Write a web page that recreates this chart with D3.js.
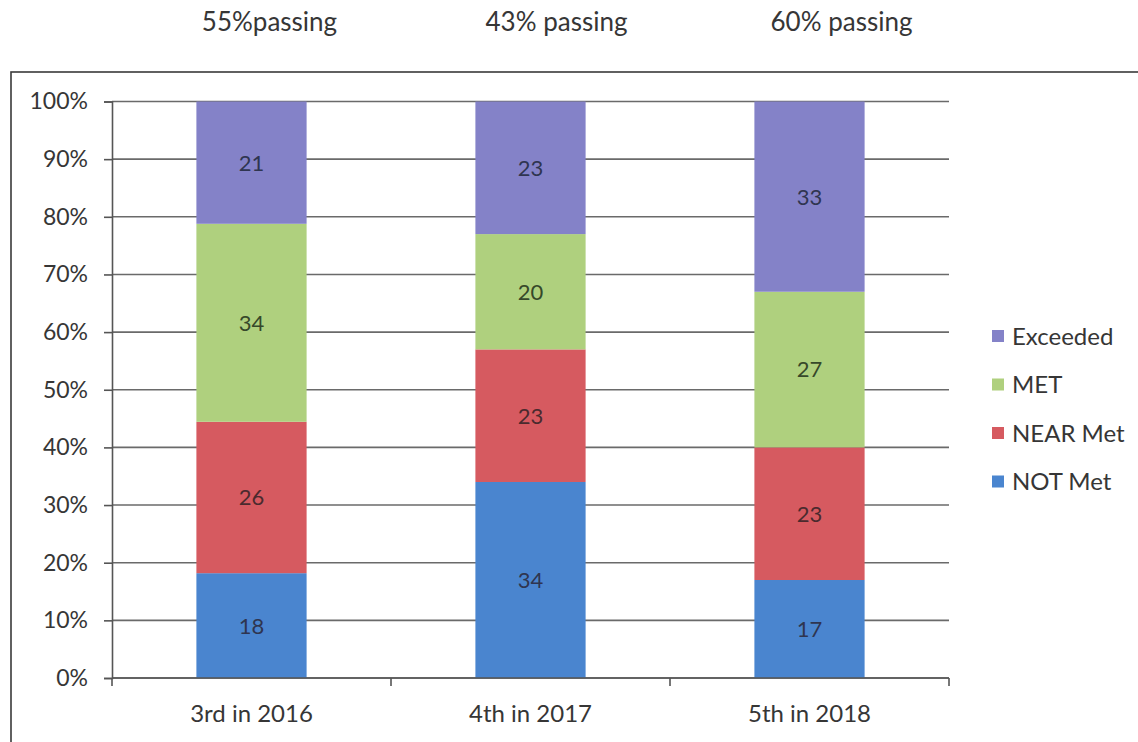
<!DOCTYPE html>
<html>
<head>
<meta charset="utf-8">
<script src="https://cdn.jsdelivr.net/npm/d3@7"></script>
<style>
  html, body { margin: 0; padding: 0; background: #fff; }
  svg { display: block; }
  text { font-family: Lato, "Open Sans", sans-serif; fill: #363636; }
</style>
</head>
<body>
<svg id="chart" width="1138" height="742"></svg>
<script>
// Student performance levels by grade/year (counts, drawn as 100% stacked bars)
const categories = ["3rd in 2016", "4th in 2017", "5th in 2018"];
const passingTitles = ["55%passing", "43% passing", "60% passing"];
const series = ["NOT Met", "NEAR Met", "MET", "Exceeded"];
const notMet   = [18, 34, 17];
const nearMet  = [26, 23, 23];
const met      = [34, 20, 27];
const exceeded = [21, 23, 33];
const yTicks = [0, 0.1, 0.2, 0.3, 0.4, 0.5, 0.6, 0.7, 0.8, 0.9, 1.0];

const colors = {
  "NOT Met": "#4a85cf",
  "NEAR Met": "#d65a60",
  "MET": "#afd07e",
  "Exceeded": "#8482c8"
};

const rows = categories.map((c, i) => ({
  category: c,
  "NOT Met": notMet[i],
  "NEAR Met": nearMet[i],
  "MET": met[i],
  "Exceeded": exceeded[i]
}));

const svg = d3.select("#chart");
const plot = { left: 112, right: 949, top: 101.5, bottom: 678 };

const x = d3.scaleBand().domain(categories).range([plot.left, plot.right]).paddingInner(0.605).paddingOuter(0.3025);
const xOuter = d3.scaleBand().domain(categories).range([plot.left, plot.right]).padding(0);
const y = d3.scaleLinear().domain([0, 1]).range([plot.bottom, plot.top]);

const stacked = d3.stack().keys(series).offset(d3.stackOffsetExpand)(rows);

// chart frame
svg.append("rect")
  .attr("x", 11).attr("y", 72)
  .attr("width", 1160).attr("height", 720)
  .attr("fill", "none").attr("stroke", "#3a3a3a").attr("stroke-width", 1.6);

// horizontal gridlines
svg.append("g")
  .selectAll("line")
  .data(yTicks)
  .join("line")
  .attr("x1", plot.left).attr("x2", plot.right)
  .attr("y1", d => y(d)).attr("y2", d => y(d))
  .attr("stroke", "#6a6a6a").attr("stroke-width", 1.6);

// y axis
const yAxis = d3.axisLeft(y).tickValues(yTicks).tickFormat(d3.format(".0%")).tickSize(8).tickPadding(16);
const gy = svg.append("g").attr("transform", `translate(${plot.left},0)`).call(yAxis);
gy.select(".domain").attr("stroke", "#555").attr("stroke-width", 1.6);
gy.selectAll(".tick line").attr("stroke", "#555").attr("stroke-width", 1.6);
gy.selectAll(".tick text").attr("font-size", 23).attr("font-family", null).style("fill", "#363636");

// bars
const layer = svg.append("g")
  .selectAll("g")
  .data(stacked)
  .join("g")
  .attr("fill", d => colors[d.key]);

layer.selectAll("rect")
  .data(d => d)
  .join("rect")
  .attr("x", d => x(d.data.category))
  .attr("width", x.bandwidth())
  .attr("y", d => y(d[1]))
  .attr("height", d => y(d[0]) - y(d[1]));

// value labels
svg.append("g")
  .selectAll("g")
  .data(stacked)
  .join("g")
  .selectAll("text")
  .data(d => d.map(p => ({ p, key: d.key })))
  .join("text")
  .attr("x", d => x(d.p.data.category) + x.bandwidth() / 2)
  .attr("y", d => (y(d.p[0]) + y(d.p[1])) / 2)
  .attr("dy", "0.36em")
  .attr("text-anchor", "middle")
  .attr("font-size", 22)
  .style("fill", d => d.key === "MET" ? "#36482a" : (d.key === "NEAR Met" ? "#4a2a2e" : "#2f3550"))
  .text(d => d.p.data[d.key]);

// x axis with ticks at category boundaries
const xAxisG = svg.append("g");
xAxisG.append("line")
  .attr("x1", plot.left).attr("x2", plot.right)
  .attr("y1", plot.bottom).attr("y2", plot.bottom)
  .attr("stroke", "#555").attr("stroke-width", 1.6);
const boundaries = categories.map(c => xOuter(c)).concat([plot.right]);
xAxisG.selectAll("line.tk")
  .data(boundaries)
  .join("line")
  .attr("class", "tk")
  .attr("x1", d => d).attr("x2", d => d)
  .attr("y1", plot.bottom).attr("y2", plot.bottom + 8)
  .attr("stroke", "#555").attr("stroke-width", 1.6);
xAxisG.selectAll("text")
  .data(categories)
  .join("text")
  .attr("x", d => xOuter(d) + xOuter.bandwidth() / 2)
  .attr("y", 722)
  .attr("text-anchor", "middle")
  .attr("font-size", 24)
  .text(d => d);

// passing-rate captions above the chart
const captionShift = [18, 26, 32];
svg.append("g")
  .selectAll("text")
  .data(passingTitles)
  .join("text")
  .attr("x", (d, i) => x(categories[i]) + x.bandwidth() / 2 + captionShift[i])
  .attr("y", 31)
  .attr("text-anchor", "middle")
  .attr("font-size", 26)
  .text(d => d);

// legend (top to bottom: Exceeded, MET, NEAR Met, NOT Met)
const legendItems = series.slice().reverse();
const legend = svg.append("g")
  .selectAll("g")
  .data(legendItems)
  .join("g")
  .attr("transform", (d, i) => `translate(992, ${336 + i * 48.5})`);
legend.append("rect")
  .attr("x", 0).attr("y", -6)
  .attr("width", 12).attr("height", 12)
  .attr("fill", d => colors[d]);
legend.append("text")
  .attr("x", 20).attr("dy", "0.36em")
  .attr("font-size", 24)
  .text(d => d);
</script>
</body>
</html>
